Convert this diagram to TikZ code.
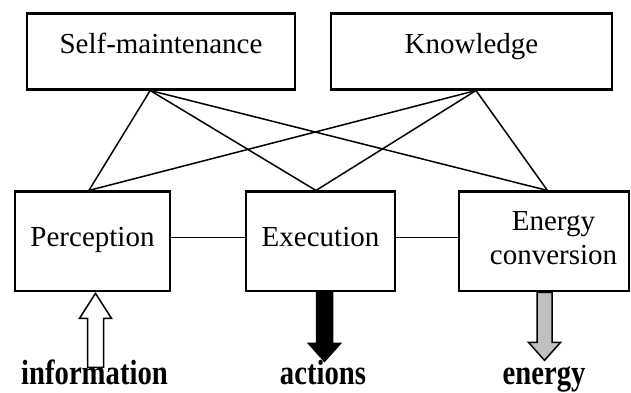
\documentclass[tikz,border=0pt]{standalone}
\usepackage{fontspec}
\setmainfont{Liberation Serif}
\newfontfamily\labfont[FakeStretch=0.82]{Liberation Serif}
\usetikzlibrary{calc}
\begin{document}
\begin{tikzpicture}[x=1pt,y=-1pt,
  box/.style={draw,line width=2.4pt,inner sep=0pt,align=center,font=\fontsize{29}{34}\selectfont},
  lowbox/.style={box,text height=55pt,text depth=44.5pt},
  txt/.style={inner sep=0pt,align=center,font=\fontsize{29}{34}\selectfont},
  link/.style={line width=1.5pt},
  lab/.style={font=\fontsize{35}{40}\labfont\bfseries,anchor=base,inner sep=0pt},
  bigarrow/.style={draw,line width=1.5pt,line join=miter}]
\useasboundingbox (0,0) rectangle (631,392);
% top boxes
\node[box,minimum width=268pt,text height=40pt,text depth=36pt] (sm) at (161,51.3) {Self-maintenance};
\node[box,minimum width=281pt,text height=40pt,text depth=36pt] (kn) at (471.5,51.3) {Knowledge};
% bottom boxes
\node[lowbox,minimum width=155pt] (pe) at (92.5,241.4) {Perception};
\node[lowbox,minimum width=149pt] (ex) at (320.5,241.4) {Execution};
\node[box,minimum width=170pt,minimum height=99.5pt] (en) at (544,241.4) {};
\node[txt,anchor=base] (entx) at ($(en.center)+(9.5,22.6)$) {Energy\\conversion};
% anchor points
\coordinate (smb) at ($(sm.south west)!0.46!(sm.south east)$);
\coordinate (knb) at ($(kn.south west)!0.516!(kn.south east)$);
\coordinate (pet) at ($(pe.north west)!0.477!(pe.north east)$);
\coordinate (ext) at ($(ex.north west)!0.47!(ex.north east)$);
\coordinate (ent) at ($(en.north west)!0.52!(en.north east)$);
\draw[link] (smb) -- (pet);
\draw[link] (smb) -- (ext);
\draw[link] (smb) -- (ent);
\draw[link] (knb) -- (pet);
\draw[link] (knb) -- (ext);
\draw[link] (knb) -- (ent);
\draw[link] ($(pe.east)+(0,-4)$) -- ($(ex.west)+(0,-4)$);
\draw[link] ($(ex.east)+(0,-4)$) -- ($(en.west)+(0,-4)$);
% arrows
\coordinate (ia) at ($(pe.south)+(3,1)$);
\draw[bigarrow,fill=white] (ia) -- ++(16,25) -- ++(-8,0) -- ++(0,49) -- ++(-16,0) -- ++(0,-49) -- ++(-8,0) -- cycle;
\coordinate (aa) at ($(ex.south)+(4,0)$);
\draw[bigarrow,fill=black] ($(aa)+(-8,0)$) -- ++(16,0) -- ++(0,51) -- ++(8,0) -- ++(-16,18) -- ++(-16,-18) -- ++(8,0) -- cycle;
\coordinate (ea) at ($(en.south)+(0.5,0)$);
\draw[bigarrow,fill={rgb,255:red,192;green,192;blue,192}] ($(ea)+(-7.5,0)$) -- ++(15,0) -- ++(0,50) -- ++(8.5,0) -- ++(-16,18) -- ++(-16,-18) -- ++(8.5,0) -- cycle;
% labels
\node[lab] (info) at (94.5,384) {information};
\node[lab] (act) at (323,384) {actions};
\node[lab] (ener) at (544,384) {energy};
\end{tikzpicture}
\end{document}
